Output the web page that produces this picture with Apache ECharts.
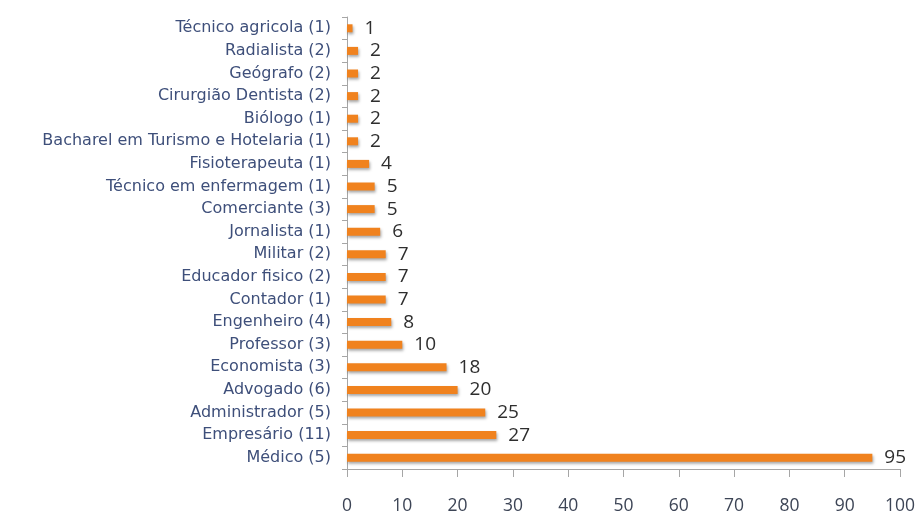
<!DOCTYPE html>
<html>
<head>
<meta charset="utf-8">
<script src="https://cdn.jsdelivr.net/npm/echarts@6/dist/echarts.min.js"></script>
<style>html,body{margin:0;padding:0;background:#fff}#c{width:918px;height:515px}</style>
</head>
<body>
<div id="c"></div>
<script>
const categories = [
  "Técnico agricola (1)", "Radialista (2)", "Geógrafo (2)", "Cirurgião Dentista (2)",
  "Biólogo (1)", "Bacharel em Turismo e Hotelaria (1)", "Fisioterapeuta (1)",
  "Técnico em enfermagem (1)", "Comerciante (3)", "Jornalista (1)", "Militar (2)",
  "Educador fisico (2)", "Contador (1)", "Engenheiro (4)", "Professor (3)",
  "Economista (3)", "Advogado (6)", "Administrador (5)", "Empresário (11)", "Médico (5)"
];
const values = [1, 2, 2, 2, 2, 2, 4, 5, 5, 6, 7, 7, 7, 8, 10, 18, 20, 25, 27, 95];
const xMin = 0, xMax = 100, xStep = 10;

const chart = echarts.init(document.getElementById('c'));
chart.setOption({
  animation: false,
  grid: { left: 347, right: 18, top: 17, bottom: 44, containLabel: false },
  xAxis: {
    type: 'value', min: xMin, max: xMax, interval: xStep,
    axisLine: { show: true, lineStyle: { color: '#a6a6a6', width: 1 } },
    axisTick: { show: true, length: 8, lineStyle: { color: '#a6a6a6' } },
    splitLine: { show: false },
    axisLabel: { color: '#3d4556', fontSize: 17.5, fontFamily: 'Open Sans', margin: 28 }
  },
  yAxis: {
    type: 'category', data: categories, inverse: true,
    axisLine: { show: true, lineStyle: { color: '#a6a6a6', width: 1 } },
    axisTick: { show: true, length: 5, lineStyle: { color: '#a6a6a6' } },
    axisLabel: { color: '#3e4f7a', fontSize: 16, fontFamily: 'DejaVu Sans', margin: 16 }
  },
  series: [{
    type: 'bar', data: values, barWidth: 8,
    itemStyle: {
      color: '#f0821e',
      shadowColor: 'rgba(0,0,0,0.35)', shadowBlur: 3, shadowOffsetX: 1, shadowOffsetY: 2
    },
    label: {
      show: true, position: 'right', distance: 12,
      color: '#2e2e2e', fontSize: 19, fontFamily: 'Open Sans'
    }
  }]
});
</script>
</body>
</html>
